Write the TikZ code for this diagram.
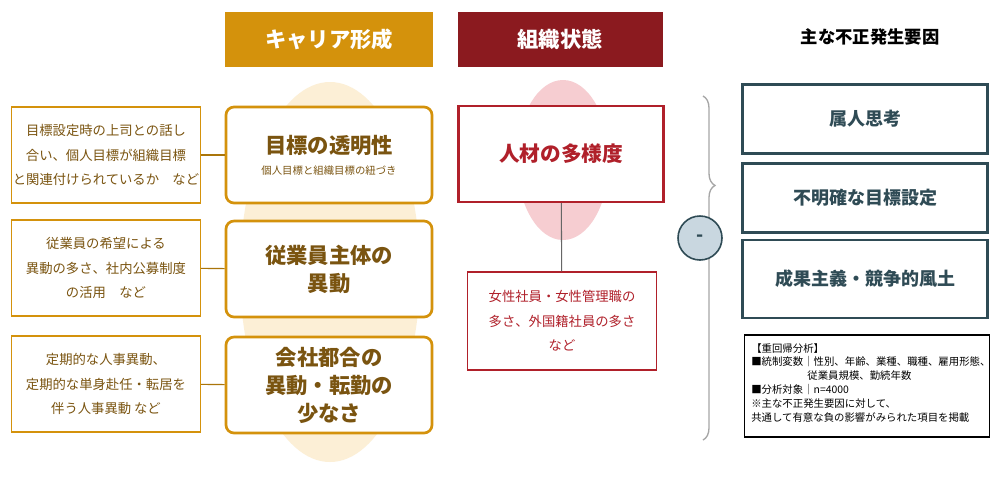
\documentclass[tikz,border=0pt]{standalone}
\usepackage{fontspec}
\setmainfont{Noto Sans CJK JP}
\usetikzlibrary{decorations.pathreplacing}
\definecolor{gold}{HTML}{D4920C}
\definecolor{goldl}{HTML}{FCEFD6}
\definecolor{dred}{HTML}{8B1A1F}
\definecolor{rred}{HTML}{B0202A}
\definecolor{pinkl}{HTML}{F6CDD1}
\definecolor{teal}{HTML}{2F4B55}
\definecolor{tgold}{HTML}{7A5410}
\definecolor{bluel}{HTML}{C9D7E0}
\begin{document}
\begin{tikzpicture}[x=0.75pt,y=-0.75pt,
  hdr/.style={text=white,font=\bfseries\fontsize{16}{19}\selectfont,inner sep=0},
  lbox/.style={draw=gold,line width=0.8pt,align=center,text=tgold,inner xsep=0pt,font=\fontsize{10}{18.5}\selectfont},
  gbox/.style={draw=gold,line width=2pt,rounded corners=6pt,fill=white,align=center,text=tgold},
  rbox/.style={draw=teal,line width=1.6pt,fill=white,text=teal,font=\bfseries\fontsize{13.5}{16}\selectfont},
  link/.style={draw=gold!80!black,line width=0.8pt}]
\useasboundingbox (0,0) rectangle (1000,480);
\fill[white] (0,0) rectangle (1000,480);
% background ellipses
\fill[goldl] (330,272) ellipse [x radius=90,y radius=190];
\fill[pinkl] (563,160) ellipse [x radius=46,y radius=80];
% headers
\fill[gold] (225,12) rectangle (433,67);
\node[hdr] (h1) at (329,39) {キャリア形成};
\fill[dred] (458,12) rectangle (663,67);
\node[hdr] (h2) at (560,39) {組織状態};
\node[font=\bfseries\fontsize{13}{15}\selectfont] (h3) at (870,37) {主な不正発生要因};
% left boxes
\node[lbox,minimum width=189*0.75pt,minimum height=96*0.75pt] (l1) at (106,155) {目標設定時の上司との話し\\合い、個人目標が組織目標\\と関連付けられているか　など};
\node[lbox,minimum width=189*0.75pt,minimum height=96*0.75pt] (l2) at (106,268) {従業員の希望による\\異動の多さ、社内公募制度\\の活用　など};
\node[lbox,minimum width=189*0.75pt,minimum height=96*0.75pt] (l3) at (106,384) {定期的な人事異動、\\定期的な単身赴任・転居を\\伴う人事異動 など};
% gold boxes
\node[gbox,minimum width=206*0.75pt,minimum height=96*0.75pt] (g1) at (329,155) {{\bfseries\fontsize{16}{19}\selectfont 目標の透明性}\\[4pt]{\fontsize{7.8}{9}\selectfont 個人目標と組織目標の紐づき}};
\node[gbox,minimum width=206*0.75pt,minimum height=96*0.75pt,font=\bfseries\fontsize{16}{21}\selectfont] (g2) at (329,269) {従業員主体の\\異動};
\node[gbox,minimum width=206*0.75pt,minimum height=96*0.75pt,font=\bfseries\fontsize{16}{21}\selectfont] (g3) at (329,385) {会社都合の\\異動・転勤の\\少なさ};
\draw[link] (l1) -- (g1); \draw[link] (l2) -- (g2); \draw[link] (l3) -- (g3);
% red boxes
\node[draw=rred,line width=1.6pt,fill=white,text=rred,font=\bfseries\fontsize{15.5}{18}\selectfont,minimum width=205*0.75pt,minimum height=96*0.75pt] (r1) at (561,154) {人材の多様度};
\node[draw=rred,line width=0.8pt,fill=white,text=rred,align=center,font=\fontsize{10}{18.5}\selectfont,minimum width=189*0.75pt,minimum height=98*0.75pt] (r2) at (562,321) {女性社員・女性管理職の\\多さ、外国籍社員の多さ\\など};
\draw[gray!80!black,line width=0.8pt] (r1) -- (r2);
% brace and circle
\coordinate (bt) at (703,96); \coordinate (bb) at (703,440);
\draw[gray!70,line width=1pt,decorate,decoration={brace,amplitude=9pt,aspect=0.26}] (bt) -- (bb);
\node[circle,draw=teal,line width=1.2pt,fill=bluel,minimum size=33pt,inner sep=0,font=\bfseries\fontsize{14}{14}\selectfont,text=teal] (c) at (700,238) {-};
% right boxes
\node[rbox,minimum width=245*0.75pt,minimum height=69*0.75pt] (f1) at (865,119) {属人思考};
\node[rbox,minimum width=245*0.75pt,minimum height=69*0.75pt] (f2) at (865,198) {不明確な目標設定};
\node[rbox,minimum width=245*0.75pt,minimum height=78*0.75pt] (f3) at (865,279) {成果主義・競争的風土};
% note
\node[draw=black,line width=0.8pt,minimum width=245*0.75pt,minimum height=102*0.75pt] (nb) at (867,386) {};
\node[anchor=north west,align=left,inner sep=0,font=\fontsize{7.8}{10.4}\selectfont] (nt) at (751,343) {【重回帰分析】\\■統制変数｜性別、年齢、業種、職種、雇用形態、\\\hspace{5.4em}従業員規模、勤続年数\\■分析対象｜n=4000\\※主な不正発生要因に対して、\\共通して有意な負の影響がみられた項目を掲載};
\end{tikzpicture}
\end{document}
